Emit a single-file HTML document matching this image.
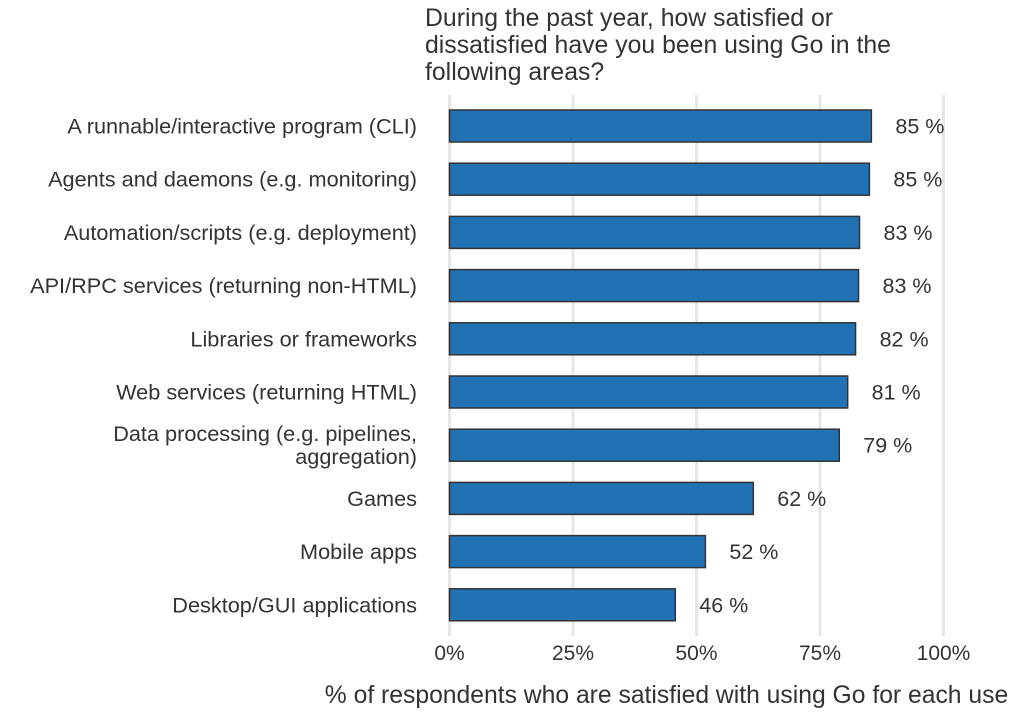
<!DOCTYPE html>
<html><head><meta charset="utf-8"><style>
body{margin:0;background:#fff;font-family:"Liberation Sans",Arial,sans-serif;}
svg text{font-family:"Liberation Sans",Arial,sans-serif;fill:#333;}
</style></head><body>
<svg id="chart" width="1035" height="710">
<text x="425" y="26" font-size="24.8">During the past year, how satisfied or</text>
<text x="425" y="53" font-size="24.8">dissatisfied have you been using Go in the</text>
<text x="425" y="80" font-size="24.8">following areas?</text>
<g id="grid"></g><g id="bars"></g><g id="labels"></g><g id="ticks"></g>
<text x="666.5" y="703" font-size="24.7" text-anchor="middle">% of respondents who are satisfied with using Go for each use</text>
</svg>
<script>
const categories=[["A runnable/interactive program (CLI)"],["Agents and daemons (e.g. monitoring)"],["Automation/scripts (e.g. deployment)"],["API/RPC services (returning non-HTML)"],["Libraries or frameworks"],["Web services (returning HTML)"],["Data processing (e.g. pipelines,","aggregation)"],["Games"],["Mobile apps"],["Desktop/GUI applications"]];
const values=[0.854,0.850,0.830,0.828,0.822,0.806,0.789,0.615,0.518,0.457];
const valueLabels=["85 %","85 %","83 %","83 %","82 %","81 %","79 %","62 %","52 %","46 %"];
const tickValues=[0,0.25,0.5,0.75,1];
const tickLabels=["0%","25%","50%","75%","100%"];
const NS="http://www.w3.org/2000/svg";
const x=v=>449.5+v*494;
const y=i=>126+i*53.2;
function mk(tag,attrs,parent,txt){const e=document.createElementNS(NS,tag);for(const k in attrs)e.setAttribute(k,attrs[k]);if(txt!==undefined)e.textContent=txt;document.getElementById(parent).appendChild(e);return e;}
tickValues.forEach((t,i)=>{
 const g=mk('line',{x1:x(t),x2:x(t),y1:95,y2:636,stroke:'#e6e6e6','stroke-width':3},'grid');
 
 
 const l=mk('text',{x:x(t),y:660,'font-size':21,'text-anchor':'middle'},'ticks',tickLabels[i]);
 
 
});
values.forEach((v,i)=>{
 const b=mk('rect',{x:x(0),y:y(i)-16,width:x(v)-x(0),height:32,fill:'#2171b5',stroke:'#333','stroke-width':1.5},'bars');
 
 
 const vl=mk('text',{x:x(v)+24,y:y(i)+7.5,'font-size':21.5},'labels',valueLabels[i]);
 
 
 const c=categories[i];
 c.forEach((line,j)=>{
  const cy=y(i)+7.5+(j-(c.length-1)/2)*23;
  const t=mk('text',{x:417,y:cy,'font-size':21.7,'text-anchor':'end'},'labels',line);
  
  
 });
});
</script>
</body></html>
